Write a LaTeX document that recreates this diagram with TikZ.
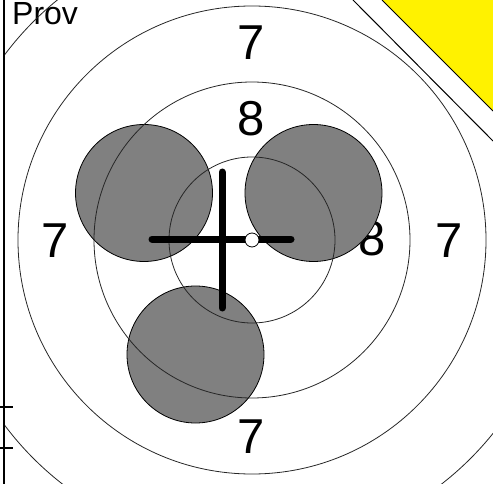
\documentclass[tikz,border=0pt]{standalone}
\usepackage{fontspec}
\setmainfont{Liberation Sans}
\tikzset{
  ring/.style={draw=black!85, line width=0.8pt},
  disc/.style={circle, draw=black, line width=0.8pt, fill=black!50, minimum size=137pt, inner sep=0pt},
  num/.style={anchor=base, inner sep=0pt, font=\fontsize{49}{49}\selectfont},
  bar/.style={line width=7pt, line cap=round},
}
\begin{document}
\begin{tikzpicture}[x=1pt, y=-1pt]
\useasboundingbox (0,0) rectangle (493,484);
\coordinate (O) at (252,240);
% labels
\node[anchor=base west, inner sep=0pt, font=\fontsize{32}{32}\selectfont] (prov) at (12,25) {Prov};
\node[num] (t7) at (251.5,60) {7};
\node[num] (t8) at (251.5,136) {8};
\node[num] (l7) at (55.5,257) {7};
\node[num] (r8) at (372.5,255.5) {8};
\node[num] (r7) at (449,257) {7};
\node[num] (b7) at (251.5,453) {7};
% discs
\node[disc] (d1) at (144,193) {};
\node[disc] (d2) at (313.5,193) {};
\node[disc] (d3) at (195.5,354.5) {};
% rings
\begin{scope}
\clip (5,0) rectangle (493,484);
\draw[ring] (O) circle [radius=83pt];
\draw[ring] (O) circle [radius=158pt];
\draw[ring] (O) circle [radius=234pt];
\draw[ring] (O) circle [radius=309pt];
\end{scope}
% cross
\coordinate (cl) at (152,239);
\coordinate (cr) at (291,239);
\coordinate (ct) at (222,172);
\coordinate (cb) at (222,308);
\draw[bar] (cl) -- (cr);
\draw[bar] (ct) -- (cb);
\node[circle, draw=black, fill=white, line width=0.8pt, minimum size=14pt, inner sep=0pt] (dot) at (O) {};
% corner band
\coordinate (y1) at (382,0);
\coordinate (y2) at (493,0);
\coordinate (y3) at (493,111);
\coordinate (s1) at (353,0);
\coordinate (s2) at (493,141);
\fill[yellow] (y1) -- (y2) -- (y3) -- cycle;
\draw[line width=1pt] (y1) -- (y3);
\draw[line width=1pt] (s1) -- (s2);
% left border
\coordinate (v1) at (4,0);
\coordinate (v2) at (4,484);
\draw[line width=1.8pt] (v1) -- (v2);
\coordinate (k1) at (0,407);
\coordinate (k2) at (13,407);
\coordinate (k3) at (0,448);
\coordinate (k4) at (13,448);
\draw[line width=1.3pt] (k1) -- (k2);
\draw[line width=1.3pt] (k3) -- (k4);
\end{tikzpicture}
\end{document}
